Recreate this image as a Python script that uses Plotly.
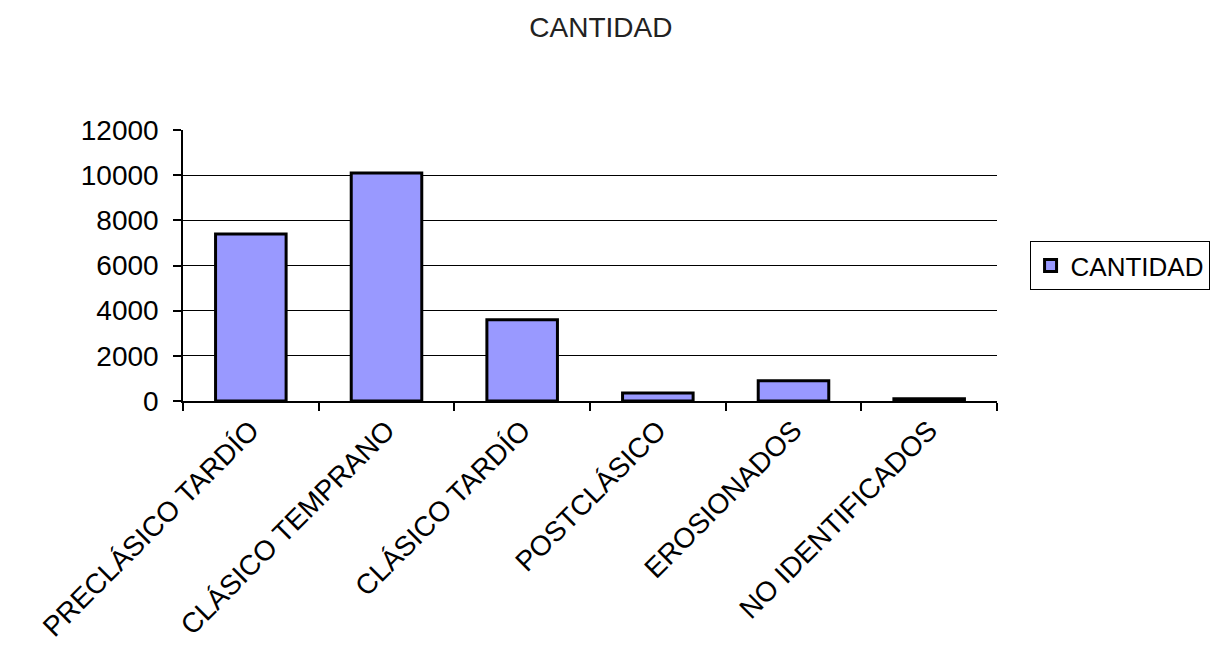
import plotly.graph_objects as go

categories = ["PRECLÁSICO TARDÍO", "CLÁSICO TEMPRANO", "CLÁSICO TARDÍO",
              "POSTCLÁSICO", "EROSIONADOS", "NO IDENTIFICADOS"]
values = [7400, 10100, 3600, 350, 900, 100]
series_name = "CANTIDAD"
y_ticks = [0, 2000, 4000, 6000, 8000, 10000, 12000]

fig = go.Figure()
fig.add_trace(go.Bar(
    x=categories, y=values, name=series_name,
    marker=dict(color="#9999FF", line=dict(color="black", width=3)),
    showlegend=True,
))

font_family = "Liberation Sans, Arial, sans-serif"
fig.update_layout(
    width=1225, height=658,
    paper_bgcolor="white", plot_bgcolor="white",
    margin=dict(l=175, r=236, t=122, b=265, autoexpand=False),
    bargap=0.48,
    font=dict(family=font_family, color="black", size=27),
    title=dict(text="CANTIDAD", x=0.484, xanchor="center", y=0.971, yanchor="middle",
               font=dict(size=28, family=font_family, color="#222222")),
    legend=dict(x=1.040, y=0.50, xanchor="left", yanchor="middle",
                bordercolor="black", borderwidth=1, bgcolor="white",
                font=dict(size=26, family=font_family)),
    xaxis=dict(type="category", showline=True, linecolor="black", linewidth=1.5,
               ticks="outside", tickson="boundaries", ticklen=8, tickcolor="black",
               tickwidth=1.5, tickangle=-45, tickfont=dict(size=28), showgrid=False,
               automargin=False),
    yaxis=dict(range=[0, 12000], tickvals=y_ticks, tickformat="d", showline=True,
               linecolor="black", linewidth=1.5, ticks="outside", ticklen=8,
               tickcolor="black", tickwidth=1.5, ticklabelstandoff=9,
               showgrid=True, gridcolor="black", gridwidth=1, zeroline=False,
               tickfont=dict(size=28), automargin=False),
)
fig.write_html("out.html")
